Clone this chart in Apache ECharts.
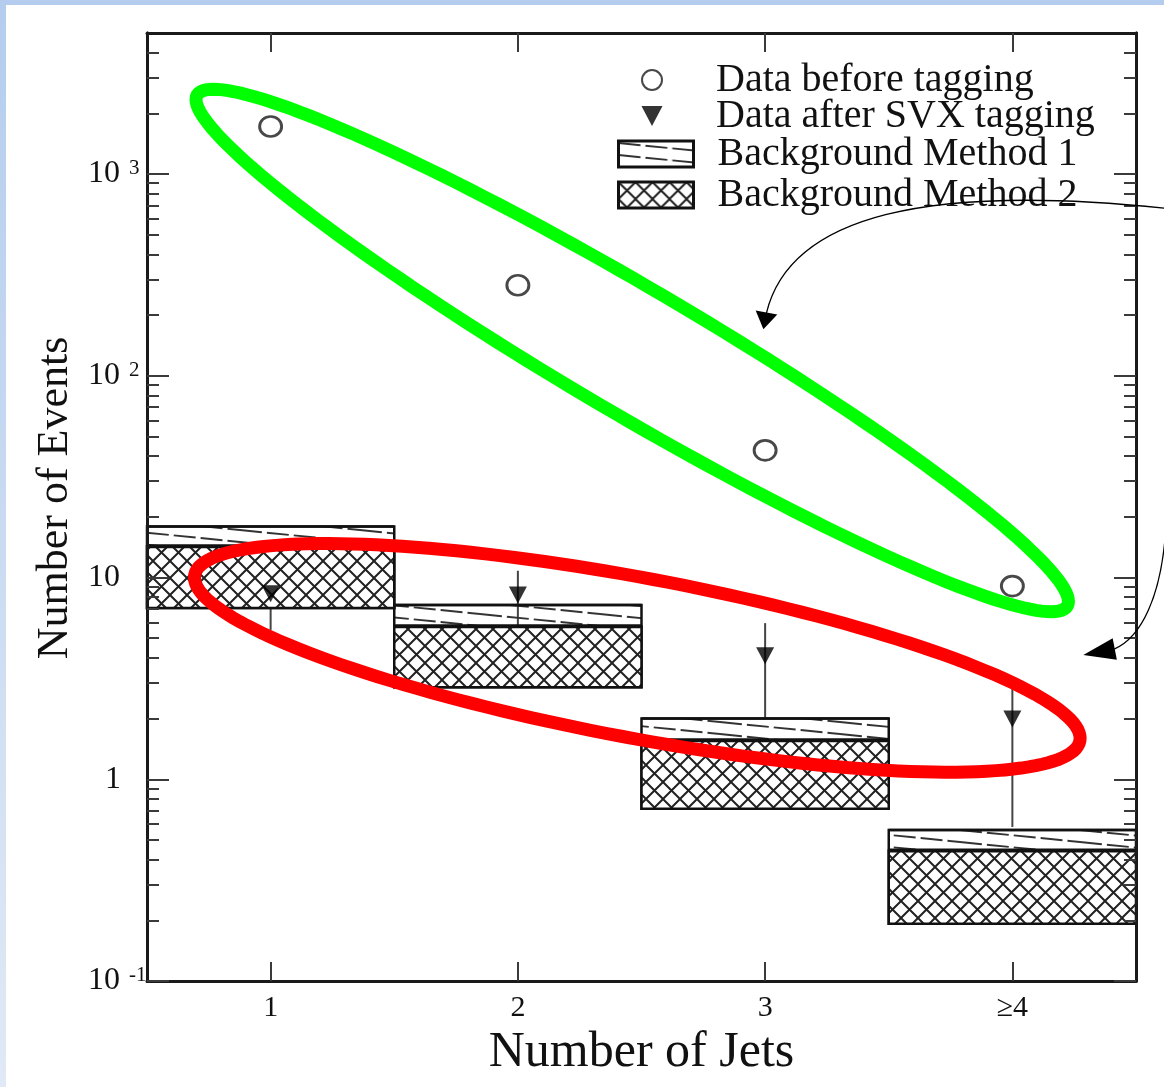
<!DOCTYPE html>
<html>
<head>
<meta charset="utf-8">
<title>Number of Events vs Number of Jets</title>
<script src="https://cdn.jsdelivr.net/npm/echarts@6/dist/echarts.min.js"></script>
<style>
  html, body { margin: 0; padding: 0; background: #fff; overflow: hidden; }
  #frameTop { position: absolute; left: 0; top: 0; width: 1164px; height: 5px; background: #b4cdee; }
  #frameLeft { position: absolute; left: 0; top: 0; width: 6px; height: 1087px; background: linear-gradient(#b4cdee, #e0e9f5); }
  #chart { position: absolute; left: 0; top: 0; width: 1164px; height: 1087px; }
</style>
</head>
<body>
<div id="frameTop"></div>
<div id="frameLeft"></div>
<div id="chart"></div>
<script>
// jet multiplicity bins
const jetBins = [1, 2, 3, 4];
const binEdgeLow = [0.5, 1.5, 2.5, 3.5];
const binEdgeHigh = [1.5, 2.5, 3.5, 4.5];
const xTickLabels = ["1", "2", "3", "≥4"];

// data points
const dataBeforeTagging = [1720, 281, 42.7, 9.07];
const dataAfterTagging = [8.3, 8.2, 4.1, 1.99];
const afterTagErrLow = [5.5, 5.43, 2.02, 0.58];
const afterTagErrHigh = [11.0, 10.8, 5.94, 2.89];

// background predictions, band edges per bin
const bkgMethod1High = [17.9, 7.31, 2.0, 0.561];
const bkgMethod2High = [14.3, 5.74, 1.56, 0.443];
const bkgLow = [7.06, 2.86, 0.714, 0.192];

// y axis ticks
const yMajorTicks = [0.1, 1, 10, 100, 1000];
const yMajorLabels = ["{b|10}{s|-1}", "{one|1}", "{b|10}", "{b|10}{s|2}", "{b|10}{s|3}"];
const yMinorTicks = [];
[0.1, 1, 10, 100, 1000].forEach(function (d) {
  for (let m = 2; m <= 9; m++) {
    if (m * d < 5000) yMinorTicks.push(m * d);
  }
});

// hand drawn annotations (data coordinates)
const greenEllipseEnds = [[0.703, 2466], [4.222, 7.22]];
const redEllipseEnds = [[0.693, 10.3], [4.273, 1.55]];
const upperArrow = [[4.614, 678], [3.668, 892], [3.102, 633], [3.005, 204]];
const upperArrowTip = [2.993, 170];
const lowerArrow = [[4.622, 18.6], [4.606, 7.91], [4.517, 5.01], [4.412, 4.42]];
const lowerArrowTip = [4.287, 4.13];

const serif = '"Liberation Serif", "Times New Roman", serif';
const ink = "#111";

function linePattern() {
  const c = document.createElement("canvas");
  c.width = 120;
  c.height = 12;
  const ctx = c.getContext("2d");
  ctx.strokeStyle = "#333";
  ctx.lineWidth = 1.9;
  ctx.setLineDash([22, 5]);
  [-12, 0, 12].forEach(function (off) {
    ctx.beginPath();
    ctx.moveTo(0, off + 2);
    ctx.lineTo(120, off + 14);
    ctx.stroke();
  });
  return { image: c, repeat: "repeat" };
}

function crossPattern() {
  const c = document.createElement("canvas");
  c.width = 17;
  c.height = 17;
  const ctx = c.getContext("2d");
  ctx.fillStyle = "#fff";
  ctx.fillRect(0, 0, 17, 17);
  ctx.strokeStyle = "#222";
  ctx.lineWidth = 2;
  ctx.beginPath();
  ctx.moveTo(-2, -2);
  ctx.lineTo(19, 19);
  ctx.moveTo(19, -2);
  ctx.lineTo(-2, 19);
  ctx.stroke();
  return { image: c, repeat: "repeat" };
}

const hatch1 = linePattern();
const hatch2 = crossPattern();

function bandData(high) {
  return binEdgeLow.map(function (x, i) {
    return [x, binEdgeHigh[i], bkgLow[i], high[i]];
  });
}

function renderBand(fill, topWidth) {
  return function (params, api) {
    const p0 = api.coord([api.value(0), api.value(3)]);
    const p1 = api.coord([api.value(1), api.value(2)]);
    return {
      type: "group",
      children: [
        {
          type: "rect",
          shape: { x: p0[0], y: p0[1], width: p1[0] - p0[0], height: p1[1] - p0[1] },
          style: { fill: fill, stroke: ink, lineWidth: 2.5 }
        },
        {
          type: "line",
          shape: { x1: p0[0], y1: p0[1], x2: p1[0], y2: p0[1] },
          style: { stroke: ink, lineWidth: topWidth }
        }
      ]
    };
  };
}

function yLabel(v) {
  const e = Math.round(Math.log10(v));
  const i = yMajorTicks.findIndex(function (t) { return Math.round(Math.log10(t)) === e; });
  return i >= 0 ? yMajorLabels[i] : "";
}

const axisLineStyle = { color: "#1a1a1a", width: 3 };
const tickStyle = { color: "#3a3a3a", width: 2 };

function yAxisDef(position, ticks, length, withLabels) {
  return {
    type: "log",
    min: 0.1,
    max: 5000,
    position: position,
    z: 10,
    axisLine: { show: true, onZero: false, lineStyle: axisLineStyle },
    axisTick: { show: true, inside: true, length: length, customValues: ticks, lineStyle: tickStyle },
    axisLabel: withLabels ? {
      customValues: ticks,
      formatter: yLabel,
      align: "left",
      margin: 59,
      rich: {
        b: { fontFamily: serif, fontSize: 32, color: ink },
        one: { fontFamily: serif, fontSize: 32, color: ink, padding: [0, 0, 0, 17] },
        s: { fontFamily: serif, fontSize: 21, color: ink, verticalAlign: "top", padding: [0, 0, 0, 9] }
      }
    } : { show: false },
    splitLine: { show: false },
    minorTick: { show: false }
  };
}

function xAxisDef(position, withLabels) {
  const def = {
    type: "value",
    min: 0.5,
    max: 4.5,
    position: position,
    z: 10,
    axisLine: { show: true, onZero: false, lineStyle: axisLineStyle },
    axisTick: { show: true, inside: true, length: 19, customValues: jetBins, lineStyle: tickStyle },
    axisLabel: withLabels ? {
      customValues: jetBins,
      formatter: function (v) { return xTickLabels[jetBins.indexOf(Math.round(v))]; },
      margin: 12,
      fontFamily: serif,
      fontSize: 30,
      color: ink
    } : { show: false },
    splitLine: { show: false }
  };
  if (withLabels) {
    def.name = "Number of Jets";
    def.nameLocation = "middle";
    def.nameGap = 35;
    def.nameTextStyle = { fontFamily: serif, fontSize: 50, color: ink };
  }
  return def;
}

const yLeft = yAxisDef("left", yMajorTicks, 22, true);
yLeft.name = "Number of Events";
yLeft.nameLocation = "middle";
yLeft.nameGap = 62;
yLeft.nameTextStyle = { fontFamily: serif, fontSize: 44, color: ink, padding: [0, 0, 0, 18] };

const legendText = { fontFamily: serif, fontSize: 40, color: ink, lineHeight: 36 };

const option = {
  animation: false,
  grid: { left: 147, right: 28, top: 33, bottom: 106 },
  xAxis: [xAxisDef("bottom", true), xAxisDef("top", false)],
  yAxis: [
    yLeft,
    yAxisDef("left", yMinorTicks, 12, false),
    yAxisDef("right", yMajorTicks, 22, false),
    yAxisDef("right", yMinorTicks, 12, false)
  ],
  legend: [
    {
      data: [
        { name: "Data before tagging" },
        { name: "Data after SVX tagging", icon: "path://M0,0L20,0L10,19Z" }
      ],
      orient: "vertical",
      left: 641,
      top: 60,
      padding: 0,
      itemWidth: 22,
      itemHeight: 20,
      itemGap: -4,
      selectedMode: false,
      textStyle: Object.assign({ padding: [0, 0, 0, 48] }, legendText)
    },
    {
      data: [
        { name: "Background Method 1", icon: "rect", itemStyle: { borderColor: ink, borderWidth: 3 } },
        { name: "Background Method 2", icon: "rect", itemStyle: { borderColor: ink, borderWidth: 3 } }
      ],
      orient: "vertical",
      left: 617,
      top: 134,
      padding: 0,
      itemWidth: 75,
      itemHeight: 26,
      itemGap: 1,
      selectedMode: false,
      textStyle: Object.assign({ padding: [0, 0, 0, 19] }, legendText)
    }
  ],
  series: [
    {
      name: "SVX tagging uncertainty",
      type: "custom",
      z: 2,
      data: jetBins.map(function (x, i) { return [x, afterTagErrLow[i], afterTagErrHigh[i]]; }),
      encode: { x: 0, y: [1, 2] },
      renderItem: function (params, api) {
        const lo = api.coord([api.value(0), api.value(1)]);
        const hi = api.coord([api.value(0), api.value(2)]);
        return {
          type: "line",
          shape: { x1: lo[0], y1: lo[1], x2: hi[0], y2: hi[1] },
          style: { stroke: "#444", lineWidth: 2 }
        };
      }
    },
    {
      name: "Background Method 1",
      type: "custom",
      z: 3,
      itemStyle: { color: hatch1, borderColor: ink, borderWidth: 3 },
      data: bandData(bkgMethod1High),
      encode: { x: [0, 1], y: [2, 3] },
      renderItem: renderBand(hatch1, 2.5)
    },
    {
      name: "Background Method 2",
      type: "custom",
      z: 4,
      itemStyle: { color: hatch2, borderColor: ink, borderWidth: 3 },
      data: bandData(bkgMethod2High),
      encode: { x: [0, 1], y: [2, 3] },
      renderItem: renderBand(hatch2, 4)
    },
    {
      name: "Data before tagging",
      type: "scatter",
      z: 6,
      symbol: "circle",
      symbolSize: [22, 20],
      itemStyle: { color: "#fff", borderColor: "#1a1a1a", borderWidth: 2.8 },
      data: jetBins.map(function (x, i) { return [x, dataBeforeTagging[i]]; })
    },
    {
      name: "Data after SVX tagging",
      type: "scatter",
      z: 6,
      symbol: "triangle",
      symbolSize: [18, 17],
      symbolRotate: 180,
      itemStyle: { color: "#000" },
      data: jetBins.map(function (x, i) { return [x, dataAfterTagging[i]]; })
    }
  ]
};

const chart = echarts.init(document.getElementById("chart"));
chart.setOption(option);

// annotations are placed through the axes' own scales
function toPx(p) {
  return chart.convertToPixel({ xAxisIndex: 0, yAxisIndex: 0 }, p);
}

function ellipseShape(ends, semiMinor, color) {
  const a0 = toPx(ends[0]);
  const a1 = toPx(ends[1]);
  const cx = (a0[0] + a1[0]) / 2;
  const cy = (a0[1] + a1[1]) / 2;
  const semiMajor = Math.hypot(a1[0] - a0[0], a1[1] - a0[1]) / 2;
  const th = Math.atan2(a1[1] - a0[1], a1[0] - a0[0]);
  const pts = [];
  for (let k = 0; k < 180; k++) {
    const t = (k / 180) * Math.PI * 2;
    const u = semiMajor * Math.cos(t);
    const v = semiMinor * Math.sin(t);
    pts.push([cx + u * Math.cos(th) - v * Math.sin(th), cy + u * Math.sin(th) + v * Math.cos(th)]);
  }
  return {
    type: "polygon",
    z: 100,
    silent: true,
    shape: { points: pts },
    style: { fill: "none", stroke: color, lineWidth: 13 }
  };
}

function arrowShapes(ctrl, tip, headLen, headHalf) {
  const p = ctrl.map(toPx);
  const t = toPx(tip);
  const end = p[3];
  const dx = t[0] - end[0];
  const dy = t[1] - end[1];
  const len = Math.hypot(dx, dy);
  const ux = dx / len;
  const uy = dy / len;
  const bx = t[0] - ux * headLen;
  const by = t[1] - uy * headLen;
  return [
    {
      type: "bezierCurve",
      z: 101,
      silent: true,
      shape: {
        x1: p[0][0], y1: p[0][1],
        cpx1: p[1][0], cpy1: p[1][1],
        cpx2: p[2][0], cpy2: p[2][1],
        x2: end[0], y2: end[1]
      },
      style: { fill: "none", stroke: "#000", lineWidth: 1.3 }
    },
    {
      type: "polygon",
      z: 101,
      silent: true,
      shape: {
        points: [
          [t[0], t[1]],
          [bx - uy * headHalf, by + ux * headHalf],
          [bx + uy * headHalf, by - ux * headHalf]
        ]
      },
      style: { fill: "#000" }
    }
  ];
}

chart.setOption({
  graphic: [
    ellipseShape(greenEllipseEnds, 63, "#00ff00"),
    ellipseShape(redEllipseEnds, 80, "#ff0000")
  ].concat(arrowShapes(upperArrow, upperArrowTip, 17, 11))
   .concat(arrowShapes(lowerArrow, lowerArrowTip, 32, 11))
});
</script>
</body>
</html>
